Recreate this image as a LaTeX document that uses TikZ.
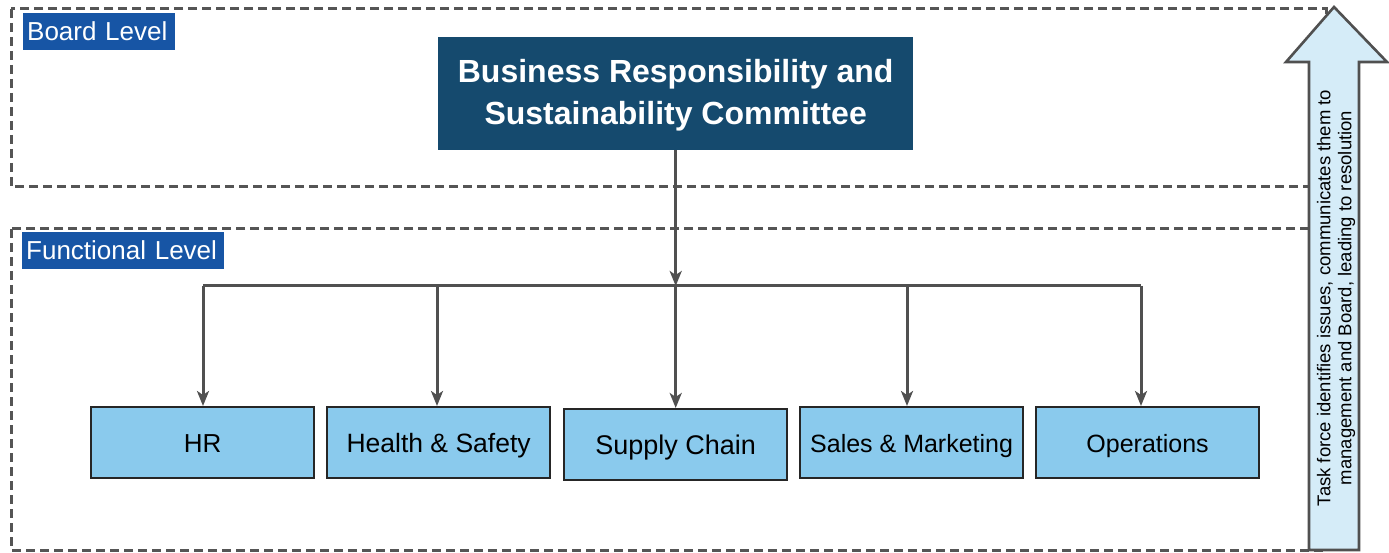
\documentclass[tikz,border=0pt]{standalone}
\usepackage{fontspec}
\setmainfont{Liberation Sans}
\usetikzlibrary{arrows.meta}
\definecolor{frame}{HTML}{555555}
\definecolor{lblue}{HTML}{1755A5}
\definecolor{navy}{HTML}{154A6E}
\definecolor{sky}{HTML}{8ACAED}
\definecolor{pale}{HTML}{D5ECF8}
\definecolor{conn}{HTML}{505050}
\tikzset{
  levelframe/.style={draw=frame, line width=3pt, dash pattern=on 9pt off 5pt},
  levellabel/.style={fill=lblue, text=white, font=\fontsize{26}{30}\selectfont, inner xsep=4pt, inner ysep=0pt,
    align=left, minimum height=37pt, anchor=north west},
  funcbox/.style={draw=black!85, line width=2.2pt, fill=sky, minimum width=223pt, minimum height=71pt, inner sep=0pt,
    text height=19pt, text depth=-1pt, anchor=north west},
  conline/.style={draw=conn, line width=3pt},
  conarrow/.style={conline, -{Stealth[length=15pt,width=12pt,inset=4pt]}}
}
\begin{document}
\begin{tikzpicture}[x=1pt,y=-1pt]
\useasboundingbox (0,0) rectangle (1389,553);
% frames
\draw[levelframe] (11,9) rectangle (1326,187);
\draw[levelframe] (11,229) rectangle (1326,550);
% labels
\node[levellabel, text width=144pt] (bl) at (23,13) {Board Level};
\node[levellabel, text width=194pt] (fl) at (22,232) {Functional Level};
% committee
\node[fill=navy, minimum width=475pt, minimum height=113pt, inner sep=0pt, anchor=north west] (comm) at (438,37) {};
\node[text=white, align=center, inner sep=0pt, yshift=-2pt,
  font=\bfseries\fontsize{32}{42}\selectfont] (commtext) at (comm.center) {Business Responsibility and\\Sustainability Committee};
% functional boxes
\node[funcbox, font=\fontsize{26}{30}\selectfont] (hr) at (90,406) {HR};
\node[funcbox, font=\fontsize{26.5}{30}\selectfont] (hs) at (326,406) {Health \& Safety};
\node[funcbox, font=\fontsize{27}{30}\selectfont] (sc) at (563,408) {Supply Chain};
\node[funcbox, font=\fontsize{25}{30}\selectfont] (sm) at (799,406) {Sales \& Marketing};
\node[funcbox, font=\fontsize{25}{30}\selectfont] (op) at (1035,406) {Operations};
% connectors
\coordinate (j) at (comm.south |- 0,286);
\coordinate (jl) at (203,286);
\coordinate (jr) at (1141,286);
\draw[conarrow] (comm.south) -- (j);
\draw[conline] (jl) -- (jr);
\draw[conarrow] (jl) -- (jl |- hr.north);
\draw[conarrow] (437,286) -- (437,0 |- hs.north);
\draw[conarrow] (j) -- (j |- sc.north);
\draw[conarrow] (907,286) -- (907,0 |- sm.north);
\draw[conarrow] (jr) -- (jr |- op.north);
% big arrow
\draw[draw=conn, line width=2.6pt, fill=pale, line join=miter]
  (1309,550) -- (1309,62) -- (1286,62) -- (1334,7) -- (1387,62) -- (1359,62) -- (1359,550) -- cycle;
\node[rotate=90, align=center, font=\fontsize{18.5}{21}\selectfont, inner sep=0pt] (note) at (1336,298)
  {Task force identifies issues, communicates them to\\management and Board, leading to resolution};
\end{tikzpicture}
\end{document}
